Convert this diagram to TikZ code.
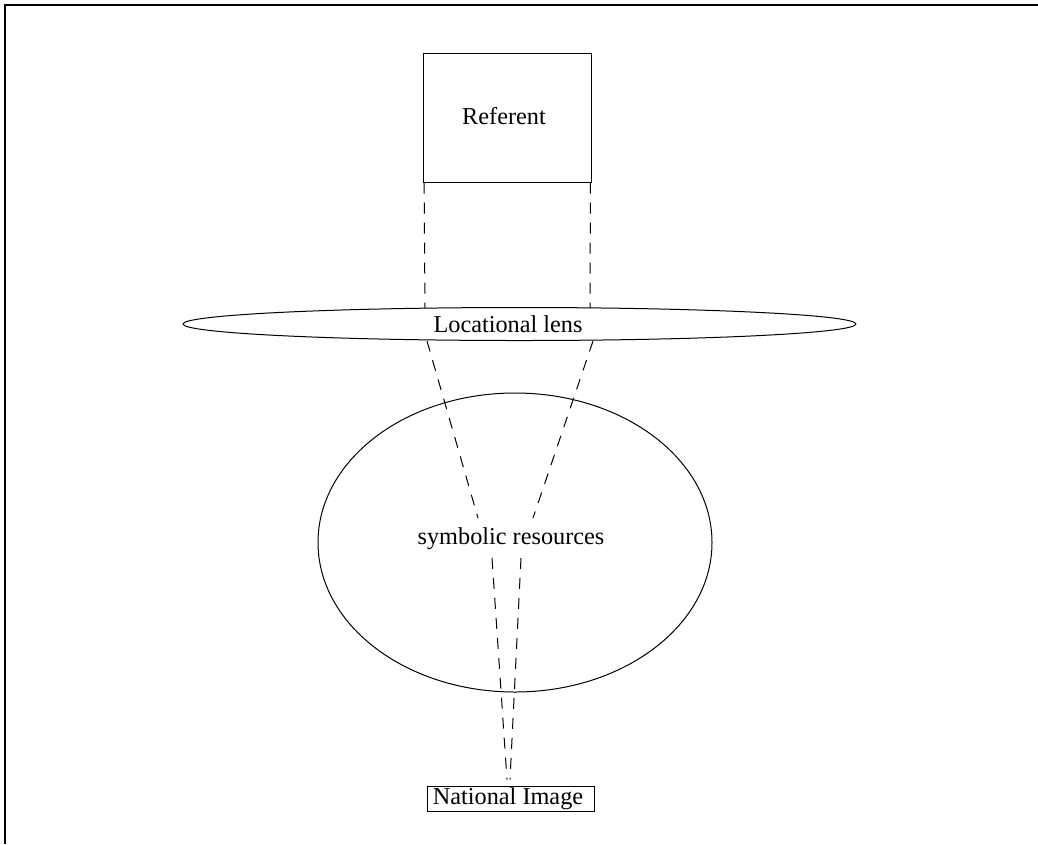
\documentclass[tikz,border=0pt]{standalone}
\usepackage{fontspec}
\setmainfont{Liberation Serif}
\usetikzlibrary{shapes.geometric}

\begin{document}
\begin{tikzpicture}[x=0.75pt, y=-0.75pt, line width=0.75pt,
    every node/.style={font=\fontsize{18.2}{22}\selectfont},
    ray/.style={dash pattern=on 8.25pt off 6.75pt}]
\useasboundingbox (0,0) rectangle (1038,844);

% frame, only top and left edges show
\draw [line width=1.5pt] (1038,5) -- (5,5) -- (5,844);

\node[draw, minimum width=126pt, minimum height=96.75pt] (referent) at (507,117.5) {};
\node (reflabel) at (504,116) {Referent};
\node[draw, ellipse, inner sep=0pt, minimum width=504.75pt, minimum height=24.75pt] (lens) at (519.5,324) {};
\node (lenslabel) at (508,324.5) {Locational lens};
\node[draw, ellipse, minimum width=295.5pt, minimum height=224.25pt] (symres) at (515,542.5) {};
\node (symlabel) at (511,539) {symbolic resources};
\node[draw, inner sep=1pt, minimum width=125.25pt, minimum height=18.75pt] (natimg) at (510.5,798.5) {};
\node (natlabel) at (508,798.5) {National Image};

% points where the rays meet the lens and the label
\coordinate (lensTL) at (425,308);
\coordinate (lensTR) at (590,308);
\coordinate (lensBL) at (427,341);
\coordinate (lensBR) at (593,341);
\coordinate (focL) at (478,518);
\coordinate (focR) at (533,518);
\coordinate (outL) at (492,558);
\coordinate (outR) at (521,558);

\draw[ray] ([xshift=1.2pt]referent.south west) -- (lensTL);
\draw[ray] ([xshift=-0.8pt]referent.south east) -- (lensTR);
\draw[ray] (lensBL) -- (focL);
\draw[ray] (lensBR) -- (focR);
\draw[ray] (outL) -- ([shift={(-3.5,-6)}]natimg.north);
\draw[ray] (outR) -- ([shift={(-0.5,-6)}]natimg.north);
\end{tikzpicture}
\end{document}
